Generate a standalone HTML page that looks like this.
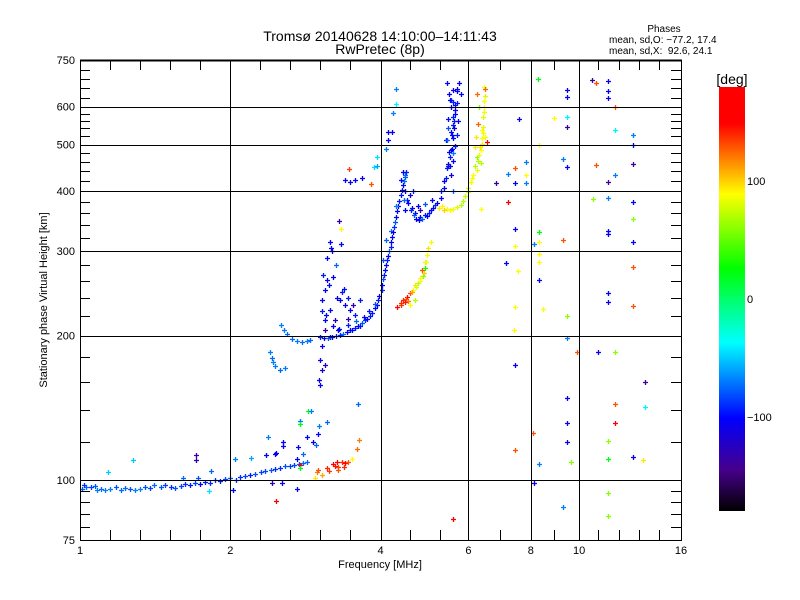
<!DOCTYPE html>
<html><head><meta charset="utf-8"><style>
html,body{margin:0;padding:0;background:#fff;}
svg{display:block;font-family:"Liberation Sans",sans-serif;}
</style></head><body>
<svg id="chart" width="800" height="600" viewBox="0 0 800 600">
<text x="380" y="41" font-size="14" text-anchor="middle">Tromsø 20140628 14:10:00–14:11:43</text>
<text x="380" y="54" font-size="14" text-anchor="middle">RwPretec (8p)</text>
<g font-size="10">
<text x="664" y="32" text-anchor="middle">Phases</text>
<text x="609" y="43">mean, sd,O: −77.2, 17.4</text>
<text x="609" y="54" xml:space="preserve">mean, sd,X:  92.6, 24.1</text>
</g>
<g id="marks"></g>
<g id="axes"></g>
<text x="380" y="568" font-size="11" text-anchor="middle">Frequency [MHz]</text>
<text transform="translate(47,300) rotate(-90)" font-size="11" text-anchor="middle">Stationary phase Virtual Height [km]</text>
<g id="cbar"></g>
<text x="732" y="84" font-size="14" text-anchor="middle">[deg]</text>
</svg>
<script>
// ---- data ----
const xTicks = [1, 2, 4, 6, 8, 10, 16];
const yTicks = [75, 100, 200, 300, 400, 500, 600, 750];
const yGrid = [100, 200, 300, 400, 500, 600];
const xGrid = [2, 4, 6, 8, 10];
const cbarTicks = [100, 0, -100];

const lowF = [1.01,1.05,1.10,1.15,1.21,1.26,1.32,1.38,1.45,1.52,1.59,1.66,1.74,1.82,1.91,2.0,2.09,2.19,2.3,2.41,2.52,2.64,2.75,2.85,1.138,1.277,1.61,1.72,1.71,1.71,1.83,2.04,2.03,2.42,2.54,2.72,1.81,2.20,2.36,2.47,2.55,2.47];
const lowH = [95.8,96.5,95.8,96,95.4,96,95.8,96.2,96.6,96.7,97.2,97.6,98,98.5,99.5,101,101.5,102.5,103.9,104.9,106,107,108,109,104,110,101,101,112.5,110,104.5,110.5,95.5,98.6,98.6,95.6,94.9,111,113,114,118,90.6];
const lowP = [-80,-85,-75,-70,-75,-80,-70,-85,-80,-90,-85,-95,-100,-90,-95,-80,-90,-95,-85,-80,-90,-85,-80,-75,-50,-50,-75,-80,-135,-130,-75,-70,-100,-130,-100,-100,-45,-60,-100,-105,-110,160];

const low2F = [1.03,1.07,1.12,1.18,1.23,1.29,1.35,1.41,1.48,1.55,1.62,1.70,1.78,1.86,1.95,2.05,2.14,2.24,2.35,2.46,2.58,2.69,2.80,1.02,1.08];
const low2H = [96.8,97,95.2,96.5,96.2,95.5,96.8,97.5,97.5,96.4,98,98.8,99,99.8,100.5,100.2,102,103,104.5,105.5,106.8,107.5,108.5,97.5,95.5];
const low2P = [-75,-80,-70,-80,-75,-70,-80,-75,-85,-80,-90,-85,-95,-90,-85,-90,-85,-80,-85,-90,-80,-85,-75,-90,-70];

const eF = [2.73,2.80,2.72,2.76,2.76,2.85,2.86,2.90,2.76,2.76,3.01,3.12,3.00,2.97,2.93,3.60,2.55,2.46,2.38];
const eH = [117,113.2,110.8,107.3,106,122.8,139,139,132.6,130.7,129.5,132,125,118.5,120,144,120,113.2,122.8];
const eP = [-100,-75,-105,160,20,-100,20,-70,-70,20,-70,-75,-100,-75,-105,-75,-100,-105,-70];

const exF = [2.96,2.99,3.0,3.12,3.21,3.27,3.29,3.29,3.35,3.40,3.44,3.50,3.59,3.62,3.05,3.15,3.25,3.38];
const exH = [101,103.8,104.9,105.9,107.8,108.8,106.3,104.9,108.8,108.3,108.8,110.8,115.9,121,102.5,104.5,107,106.5];
const exP = [95,120,130,140,155,160,135,130,140,150,130,90,125,120,110,135,145,140];

const f1F = [2.53,2.56,2.60,2.66,2.72,2.78,2.85,2.89,2.40,2.42,2.44,2.46,2.52,2.58,3.17,3.32,3.475,3.64,3.72,3.81,3.90,3.96,4.02,3.06,3.10,3.12,3.07,3.17,3.24,3.32,3.35,3.40,3.475,3.44,3.56,3.29,3.21,3.11,3.64,3.10,3.06,3.03,3.06,3.01,3.03,3.10,3.17,3.19,3.34,3.34,3.31,3.26];
const f1H = [210,205,201,197,195,194.3,195,196,184.6,179.4,176,173,169.4,171,198.7,200.8,205,209.6,215,220,228,237,248.5,237,248.5,260.7,267,225.8,215,237,246,231,225.8,217,220.5,205,209.6,220.5,237,205,190.6,177.7,169.4,161.5,158,173.6,313,304,333,311,346,280];
const f1P = [-70,-70,-75,-75,-70,-75,-70,-75,-70,-75,-70,-70,-75,-70,-100,-95,-100,-95,-90,-95,-100,-95,-90,-105,-100,-110,-95,-100,-130,-100,-95,-105,-100,-130,-95,-100,-105,-100,-95,-130,-110,-105,-120,-110,-100,-130,-105,-100,90,-100,-130,-75];

const f2F = [3.03,3.08,3.14,3.20,3.26,3.36,3.42,3.50,3.55,3.60,3.68,3.75,3.85,3.93,3.98,3.30,3.45,3.58,3.70,3.80,3.90,3.15,3.22,3.28,3.38,3.45,3.52,3.12,3.20,3.05,3.10];
const f2H = [199,198,197.5,198.5,199.5,201.5,203,205,207,209,212,217,223,232,242,206,210,214,219,225,233,255,265,240,250,240,232,290,300,225,215];
const f2P = [-95,-100,-80,-100,-95,-75,-100,-105,-95,-100,-80,-100,-95,-100,-105,-100,-95,-75,-100,-95,-80,-100,-105,-110,-100,-95,-130,-100,-105,-95,-100];

const riseF = [4.03,4.06,4.10,4.14,4.19,4.22,4.26,4.30,4.33,4.39,4.43,4.47,4.50,4.10,4.19,4.29,4.05,4.47,4.53,4.62,4.69,4.81,4.91,5.04,5.15,5.28,5.35,5.42,5.47,5.53,5.56,5.62,5.64,5.69,5.75,4.59,4.76,4.91,5.08,4.81,4.48,4.64,4.46,4.39,4.43,4.48];
const riseH = [254.6,267,280,293,306,321,337,354,372,392,412,427,439,316,331,372,287,401,383,368,360,354,357,365,374,387,405,425,451,486,523,561,604,645,671,392,372,376,383,365,365,401,383,421,439,433];
const riseP = [-100,-95,-100,-105,-95,-100,-90,-105,-100,-95,-100,-80,-95,-75,-75,-70,-80,-100,-95,-100,-105,-100,-95,-100,-90,-105,-100,-95,-100,-105,-100,-95,-110,-100,-105,-110,-100,-80,-100,-130,-100,-95,-75,-100,-105,-75];

const rise2F = [4.05,4.08,4.12,4.16,4.20,4.24,4.28,4.32,4.36,4.41,4.45,4.55,4.60,4.66,4.72,4.78,4.85,4.95,5.00,5.10,5.20];
const rise2H = [262,274,287,300,313,328,345,363,382,402,420,378,365,356,350,348,350,355,360,368,378];
const rise2P = [-80,-100,-95,-75,-100,-105,-80,-100,-95,-100,-75,-100,-95,-80,-100,-105,-75,-100,-95,-100,-105];

const colF = [5.44,5.49,5.58,5.65,5.47,5.60,5.53,5.42,5.65,5.49,5.60,5.44,5.55,5.37,5.28,5.68,5.73,5.79,5.70,5.44,5.58,5.53,5.60,5.47];
const colH = [671,636,612,589,566,549,532,510,497,482,463,447,433,419,401,654,561,636,523,510,401,620,480,455];
const colP = [-100,-105,-95,-110,-100,-95,-100,-105,-95,-100,-100,-95,-105,-100,-95,-110,-105,-100,-95,-75,-75,-90,-70,-110];

const col2F = [5.50,5.52,5.56,5.60,5.62,5.58,5.54,5.50,5.46,5.64,5.68,5.60];
const col2H = [450,470,490,515,540,570,600,620,540,580,610,650];
const col2P = [-100,-95,-105,-100,-110,-95,-100,-105,-80,-100,-95,-105];

const upF = [4.30,4.30,4.24,4.14,4.22,4.14,4.10,3.93,3.88,3.83,3.40,3.475,3.56,3.68,3.46,3.93];
const upH = [654,607,583,530,530,510,490,470,449,414,421,417,421,425,445,451];
const upP = [-70,-40,-70,-105,-105,-100,-70,-45,-45,130,-105,-110,-100,-105,135,-60];

const xoF = [4.32,4.39,4.44,4.52,4.48,4.59,4.64,4.69,4.76,4.81,4.85,4.91,4.96,4.98,5.04,4.91,4.59,4.69,4.55,4.86,4.40,4.50,4.62,4.72,4.80,4.88,4.94];
const xoH = [229,231,237,241,234.5,245,248.5,254.6,257,263,273.5,284,294,304,313,276,231,237,236,266,234,238,247,252,260,270,285];
const xoP = [150,135,140,160,145,130,90,95,70,90,130,95,90,95,85,30,90,70,120,60,140,130,110,80,90,100,85];

const xuF = [5.23,5.44,5.60,5.79,5.91,5.98,6.06,6.12,6.25,6.27,6.35,6.40,6.43,6.43,6.45,6.48,6.45,6.19,6.25,6.27,6.40,6.22,6.48,6.37,6.54,6.48,6.25,5.30,5.35,6.30,6.00,6.10,6.20,6.30,6.33,6.38,6.42,6.44,6.46,5.50,5.70,5.85];
const xuH = [369,367,367,374,390,398,418,431,443,463,486,502,528,570,600,630,660,493,470,552,535,518,518,457,506,654,636,372,365,600,405,425,450,475,495,515,545,585,615,366,370,382];
const xuP = [95,90,85,70,75,80,85,90,85,70,90,95,85,80,90,80,85,95,60,125,90,95,85,70,160,125,125,90,100,60,80,90,70,85,95,90,80,85,90,90,80,70];

const sF = [8.27,9.46,9.46,11.43,11.43,11.43,11.80,10.61,10.8,7.58,8.91,9.46,9.46,11.80,12.82,12.82,8.31,7.83,7.44,7.20,7.83,9.29,9.46,10.8,11.80,12.82,6.82,7.44,7.83,11.43,7.20,10.67,11.43,12.82,6.37,7.44,8.31,9.29,11.43,11.43,12.82,12.82,8.12,7.44,8.31,7.14,8.31,7.54,8.31,8.31,12.82,11.43,11.43,12.82,7.44,8.46,9.46,7.40,9.46,9.90,10.91,11.80,7.44,13.55,9.46,11.80,13.55,9.46,11.80,8.08,7.44,9.46,11.43,11.43,12.82,9.64,8.31,13.43,8.12,11.43,9.29,11.43,5.60];
const sH = [685,648,627,677,645,625,600,680,673,566,568,571,545,535,523,498,500,459,446,435,433,466,448,453,431,455,415,415,415,417,380,385,387,380,367,333,329,316,331,325,349,314,310,308,313,283,296,272,284,261,278,245,235,230,229,227,220,205,198,185,185,185,173.6,160,148,144,142,131.5,131.5,125.6,115.4,120,120.5,110.8,111.5,109,107.8,110,98.6,94,88,84,83.1];
const sP = [20,-105,-105,-105,-105,-105,130,-140,130,-105,90,-40,-140,-40,-70,-100,90,-70,130,-70,90,-70,-105,130,-70,-140,-140,-105,-70,-140,160,60,-70,-100,90,-105,20,130,-105,-105,60,-100,-70,90,90,-100,90,90,90,-100,130,-105,-105,130,90,90,60,90,-70,130,-105,60,-105,-140,-105,130,-40,-105,160,130,130,-105,60,20,-105,60,-70,95,-105,60,-70,60,160];

// ---- scales ----
const X0 = 80, X1 = 681, Y0 = 60, Y1 = 540;
function xs(f){ return X0 + (X1 - X0) * Math.log(f) / Math.log(16); }
function ys(h){ return Y1 - (Y1 - Y0) * Math.log10(h / 75); }
const stops = [[-180,0,0,0],[-145,70,0,140],[-101,0,0,255],[-37,0,255,255],[26,0,255,0],[89,255,255,0],[149,255,0,0],[185,255,0,0]];
function cmap(v){
  for (let i = 0; i < stops.length - 1; i++) {
    const a = stops[i], b = stops[i+1];
    if (v <= b[0]) {
      const t = Math.max(0, (v - a[0]) / (b[0] - a[0]));
      return 'rgb(' + Math.round(a[1]+(b[1]-a[1])*t) + ',' + Math.round(a[2]+(b[2]-a[2])*t) + ',' + Math.round(a[3]+(b[3]-a[3])*t) + ')';
    }
  }
  return 'rgb(255,0,0)';
}
const NS = 'http://www.w3.org/2000/svg';
function mk(tag, attrs, parent){
  const e = document.createElementNS(NS, tag);
  for (const k in attrs) e.setAttribute(k, attrs[k]);
  parent.appendChild(e);
  return e;
}
const axes = document.getElementById('axes');
const marks = document.getElementById('marks');
const cbar = document.getElementById('cbar');

xGrid.forEach(function(f){
  const x = Math.round(xs(f)) + 0.5;
  const l = mk('line', {x1:x, y1:Y0, x2:x, y2:Y1, stroke:'#000', 'stroke-width':1}, axes);
  
  
});
yGrid.forEach(function(h){
  const y = Math.round(ys(h)) + 0.5;
  const l = mk('line', {x1:X0, y1:y, x2:X1, y2:y, stroke:'#000', 'stroke-width':1}, axes);
  
  
});
const xMinorPx = [110,140,170,200,260,290,320,350,410,440,500,554,598,619,639,659];
const yMinorVals = [80,85,90,95,120,140,160,180,220,240,260,280,320,340,360,380,420,440,460,480,520,540,560,580,625,655,685,715];
xMinorPx.forEach(function(x){
  const a = mk('line', {x1:x+0.5, y1:Y1, x2:x+0.5, y2:Y1-10, stroke:'#000'}, axes);
  
  
  const b = mk('line', {x1:x+0.5, y1:Y0, x2:x+0.5, y2:Y0+10, stroke:'#000'}, axes);
  
  
});
yMinorVals.forEach(function(h){
  const y = Math.round(ys(h)) + 0.5;
  const a = mk('line', {x1:X0, y1:y, x2:X0+10, y2:y, stroke:'#000'}, axes);
  
  
  const b = mk('line', {x1:X1, y1:y, x2:X1-10, y2:y, stroke:'#000'}, axes);
  
  
});
const fr = mk('rect', {x:X0+0.5, y:Y0+0.5, width:X1-X0, height:Y1-Y0, fill:'none', stroke:'#000', 'stroke-width':1}, axes);


const tb = mk('line', {x1:X0, y1:Y0+0.5, x2:X1+1, y2:Y0+0.5, stroke:'#000', 'stroke-width':2}, axes);


xTicks.forEach(function(f){
  const t = mk('text', {x:xs(f), y:554, 'font-size':11, 'text-anchor':'middle'}, axes);
  t.textContent = String(f);
  
  
});
yTicks.forEach(function(h){
  const t = mk('text', {x:75, y:ys(h)+4, 'font-size':11, 'text-anchor':'end'}, axes);
  t.textContent = String(h);
  
  
});

const groups = [[lowF,lowH,lowP],[low2F,low2H,low2P],[eF,eH,eP],[exF,exH,exP],[f1F,f1H,f1P],[f2F,f2H,f2P],[riseF,riseH,riseP],[rise2F,rise2H,rise2P],[colF,colH,colP],[col2F,col2H,col2P],[upF,upH,upP],[xoF,xoH,xoP],[xuF,xuH,xuP],[sF,sH,sP]];
groups.forEach(function(g){
  for (let i = 0; i < g[0].length; i++) {
    const x = Math.round(xs(g[0][i])), y = Math.round(ys(g[1][i]));
    const p = mk('path', {d:'M'+(x-2)+' '+(y+0.5)+'h5M'+(x+0.5)+' '+(y-2)+'v5', stroke:cmap(g[2][i]), 'stroke-width':1.3, fill:'none'}, marks);
    
    
  }
});

const CB_TOP = 87, CB_BOT = 511;
function cy(v){ return 299 - v * 1.178; }
for (let y = CB_TOP; y < CB_BOT; y++) {
  const v = (299 - y - 0.5) / 1.178;
  const r = mk('rect', {x:719, y:y, width:26, height:1, fill:cmap(v)}, cbar);
  
  
}
cbarTicks.forEach(function(v){
  const t = mk('text', {x:747, y:cy(v)+4, 'font-size':11}, cbar);
  t.textContent = v < 0 ? '−' + Math.abs(v) : String(v);
  
  
});
</script>
</body></html>
